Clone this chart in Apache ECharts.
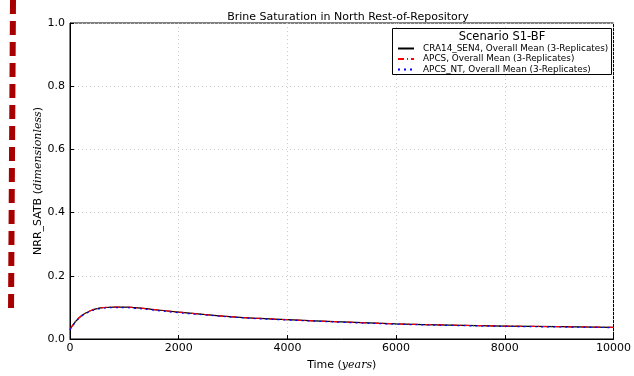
<!DOCTYPE html>
<html>
<head>
<meta charset="utf-8">
<script src="https://cdn.jsdelivr.net/npm/echarts@6/dist/echarts.min.js"></script>
<style>
  html, body { margin: 0; padding: 0; background: #fff; }
  #chart { width: 634px; height: 376px; }
</style>
</head>
<body>
<div id="chart"></div>
<script>
// Time in years
const times = [0, 100, 200, 300, 400, 500, 600, 800, 1000, 1200, 1500, 2000, 2500, 3000, 3500, 4000, 5000, 6000, 7000, 8000, 9000, 10000];
// Overall mean brine saturation (3 replicates)
const cra14Sen4 = [0.030, 0.055, 0.072, 0.083, 0.091, 0.096, 0.099, 0.101, 0.101, 0.099, 0.094, 0.085, 0.077, 0.070, 0.065, 0.061, 0.054, 0.048, 0.044, 0.041, 0.039, 0.037];
const apcs      = [0.030, 0.055, 0.072, 0.083, 0.091, 0.096, 0.099, 0.101, 0.101, 0.099, 0.094, 0.085, 0.077, 0.070, 0.065, 0.061, 0.054, 0.048, 0.044, 0.041, 0.039, 0.037];
const apcsNt    = [0.029, 0.053, 0.070, 0.081, 0.089, 0.094, 0.097, 0.099, 0.099, 0.097, 0.092, 0.083, 0.076, 0.069, 0.064, 0.060, 0.053, 0.047, 0.043, 0.040, 0.038, 0.036];
const seriesNames = ['CRA14_SEN4, Overall Mean (3-Replicates)', 'APCS, Overall Mean (3-Replicates)', 'APCS_NT, Overall Mean (3-Replicates)'];
const xTicks = { min: 0, max: 10000, interval: 2000 };
const yTicks = { min: 0, max: 1, interval: 0.2 };

const pairs = vals => times.map((t, i) => [t, vals[i]]);
const font = 'DejaVu Sans';

const chart = echarts.init(document.getElementById('chart'), null, { renderer: 'canvas' });
chart.setOption({
  animation: false,
  backgroundColor: '#fff',
  title: {
    text: 'Brine Saturation in North Rest-of-Repository',
    left: 343, top: 7, textAlign: 'center',
    textStyle: { fontFamily: font, fontSize: 11, fontWeight: 'normal', color: '#000' }
  },
  grid: { left: 70, right: 18, top: 23, bottom: 36, show: true, borderColor: '#000', borderWidth: 1, backgroundColor: 'transparent' },
  xAxis: {
    type: 'value', min: xTicks.min, max: xTicks.max, interval: xTicks.interval,
    name: '{n|Time (}{i|years}{n|)}', nameLocation: 'middle', nameGap: 21, nameMoveOverlap: false,
    nameTextStyle: { rich: { n: { fontFamily: font, fontSize: 11, color: '#000' }, i: { fontFamily: 'DejaVu Serif', fontStyle: 'italic', fontSize: 11, color: '#000' } } },
    axisLine: { lineStyle: { color: '#000', width: 1 } },
    axisTick: { inside: true, length: 4, lineStyle: { color: '#000' } },
    axisLabel: { fontFamily: font, fontSize: 11, color: '#000', margin: 4, formatter: v => String(v) },
    splitLine: { show: true, lineStyle: { color: '#ccc', type: [1, 3], width: 1 } }
  },
  yAxis: {
    type: 'value', min: yTicks.min, max: yTicks.max, interval: yTicks.interval,
    name: '{n|NRR_SATB (}{i|dimensionless}{n|)}', nameLocation: 'middle', nameGap: 26, nameRotate: 90, nameMoveOverlap: false,
    nameTextStyle: { rich: { n: { fontFamily: font, fontSize: 11, color: '#000' }, i: { fontFamily: 'DejaVu Serif', fontStyle: 'italic', fontSize: 11, color: '#000' } } },
    axisLine: { lineStyle: { color: '#000', width: 1 } },
    axisTick: { inside: true, length: 4, lineStyle: { color: '#000' } },
    axisLabel: { fontFamily: font, fontSize: 11, color: '#000', margin: 5, formatter: v => v.toFixed(1) },
    splitLine: { show: true, lineStyle: { color: '#ccc', type: [1, 3], width: 1 } }
  },
  legend: {
    orient: 'vertical', left: 397, top: 44, itemWidth: 16, itemHeight: 8, itemGap: 1.5,
    textStyle: { fontFamily: font, fontSize: 8.85, color: '#000', padding: [0, 0, 0, 4] },
    itemStyle: { opacity: 0 },
    padding: 0,
    data: seriesNames
  },
  series: [
    { name: seriesNames[0], type: 'line', data: pairs(cra14Sen4), smooth: true, symbol: 'none', z: 3,
      lineStyle: { color: '#000', width: 1.2, type: 'solid' }, itemStyle: { color: '#000' } },
    { name: seriesNames[1], type: 'line', data: pairs(apcs), smooth: true, symbol: 'none', z: 4,
      lineStyle: { color: '#ff0000', width: 1.2, type: [6, 3, 1, 3] }, itemStyle: { color: '#ff0000' } },
    { name: seriesNames[2], type: 'line', data: pairs(apcsNt), smooth: true, symbol: 'none', z: 5,
      lineStyle: { color: '#0000ff', width: 1.2, type: [2, 4] }, itemStyle: { color: '#0000ff' } }
  ],
  graphic: [
    { type: 'rect', z: 1, shape: { x: 392.5, y: 28.5, width: 219, height: 46 },
      style: { fill: '#fff', stroke: '#000', lineWidth: 1 } },
    { type: 'text', z: 2, x: 502, y: 31,
      style: { text: 'Scenario S1-BF', fontFamily: font, fontSize: 11.5, fill: '#000', align: 'center', verticalAlign: 'top' } },
    { type: 'line', z: 10, shape: { x1: 13, y1: 0, x2: 11, y2: 313 },
      style: { stroke: '#a80000', lineWidth: 6, lineDash: [14, 7], lineDashOffset: 0 } }
  ]
});
</script>
</body>
</html>
